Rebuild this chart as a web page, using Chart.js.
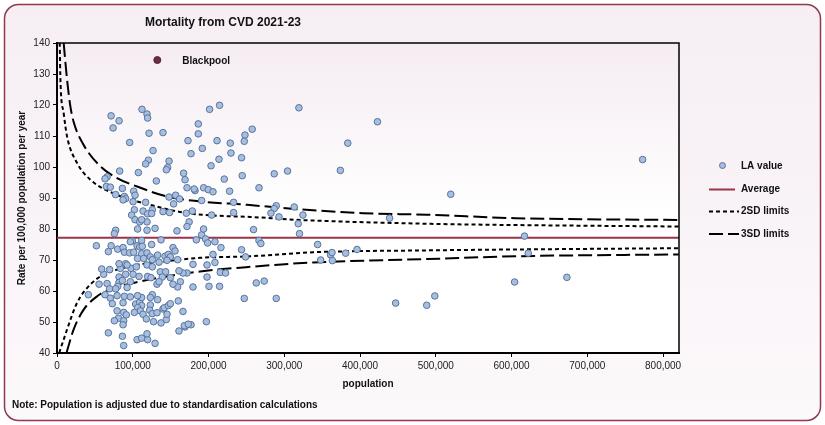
<!DOCTYPE html>
<html>
<head>
<meta charset="utf-8">
<title>Mortality from CVD 2021-23</title>
<script src="https://cdn.jsdelivr.net/npm/chart.js@4.4.1/dist/chart.umd.min.js"></script>
<style>
  html, body { margin: 0; padding: 0; background: #ffffff; }
  #wrap { position: relative; width: 825px; height: 425px; }
</style>
</head>
<body>
<div id="wrap"><canvas id="funnel" width="825" height="425"></canvas></div>
<script>
"use strict";

// Local authority values (adjusted population, rate per 100,000 per year)
const laPopulation = [
  71400, 81900, 74000, 112200, 118800, 119600, 121500, 139900, 95900, 172900,
  126800, 120600, 117000, 147900, 146000, 144300, 82700, 107400, 66100, 63400,
  167100, 169000, 131100, 65200, 70400, 86300, 101200, 103000, 77400, 88900,
  90600, 87200, 171600, 156600, 147900, 161800, 153900, 117000, 100400, 102100,
  113600, 125800, 139900, 148600, 170700, 98500, 103000, 109100, 118800, 119600,
  124900, 111700,
  201400, 214600, 319300, 186500, 186500, 257700, 248100, 247200, 211200, 228700,
  191800, 176900, 229600, 243600, 213800, 203300, 220800, 244500, 286700, 304300,
  266600, 182200, 181000, 193500, 199700, 205900, 227800, 190900, 233100, 233100,
  204100, 178600, 289400, 286700, 282400, 313100, 293000, 324600, 318400, 174400,
  320100, 259400, 266600, 269100, 243600, 248900, 263000, 273500, 247200, 289400,
  208500, 216400, 205900, 208500, 198000, 198000, 200600, 214600, 215500, 222500,
  179500, 179500, 171600, 166300, 183900, 190900, 193500, 196100, 198800, 197100,
  176900, 169000, 166300, 171600,
  423000, 383800, 374000, 519700, 439000, 773000, 617000, 622000, 344000, 361000,
  363000, 348000, 363500, 381000, 396000, 604000, 673000, 498700, 447000, 488000,
  77400, 75700, 106400, 118800, 129400, 158400, 99500, 96800, 111700, 137300,
  52000, 71400, 80100, 87200, 67800, 88900, 95900, 101200, 105700, 109100,
  112600, 124900, 111700, 118800, 106400, 114400, 123200, 125800, 132800, 142600,
  153100, 155800, 147000, 149600, 159200, 145200, 134700, 118800, 125800, 83600,
  97700, 104700, 61600, 90600, 100400, 108300, 81900, 119600, 124100, 136400,
  143400, 149600, 139000, 161000, 162800, 159200, 153100, 132000, 134700, 81900,
  86300, 96800, 80100, 92500, 66100, 55500, 69500, 77400, 41400, 63400,
  70400, 79300, 88900, 96800, 73100, 87200, 103800, 109100, 111700, 106400,
  110000, 102100, 113600, 123200, 122300, 125800, 117900, 79300, 88000, 91500,
  81000, 88000, 75700, 87200, 67800, 86300, 88000, 105700, 111700, 119600,
  118800, 129400, 127500, 137300, 144300, 145200, 139900, 132000, 141600, 147000,
  149600, 160100, 132800, 125800, 123200, 111700, 106400, 161000, 168000, 173300,
  90600, 59000, 69500, 81900, 92500
];

const laRate = [
  116.5, 114.9, 112.6, 118.6, 117.1, 115.8, 110.9, 111.1, 107.9, 108.5,
  105.3, 102.2, 101.0, 101.9, 99.8, 99.1, 98.7, 98.2, 96.8, 96.2,
  98.0, 95.9, 95.5, 93.7, 93.5, 93.1, 92.2, 90.9, 91.1, 90.5,
  89.8, 89.4, 93.3, 90.9, 90.3, 89.7, 88.1, 88.6, 88.8, 86.2,
  85.8, 86.2, 85.6, 85.3, 85.1, 84.5, 83.0, 82.3, 82.3, 84.9,
  85.0, 83.0,
  118.6, 119.9, 119.1, 113.9, 110.7, 112.2, 110.3, 108.3, 108.5, 107.7,
  106.0, 104.3, 104.5, 103.0, 102.5, 100.4, 96.1, 97.2, 97.8, 98.7,
  93.3, 92.4, 92.9, 93.3, 92.7, 92.0, 92.2, 89.2, 88.6, 85.3,
  84.5, 85.8, 87.5, 86.6, 85.1, 87.1, 83.9, 84.5, 81.7, 82.3,
  78.5, 79.8, 76.3, 75.3, 73.3, 71.0, 62.6, 63.2, 57.6, 57.6,
  75.9, 74.0, 71.8, 69.2, 68.4, 64.5, 61.5, 61.5, 66.0, 65.8,
  61.3, 68.6, 65.8, 65.8, 76.5, 78.1, 80.0, 76.8, 75.5, 50.1,
  49.1, 48.4, 53.4, 80.8,
  114.6, 107.7, 98.9, 91.2, 83.5, 102.4, 77.7, 72.2, 75.0, 71.7,
  72.4, 70.0, 69.8, 72.2, 73.4, 62.9, 64.4, 58.4, 56.1, 55.4,
  79.6, 78.5, 80.0, 79.6, 80.2, 79.4, 76.1, 75.9, 76.3, 76.5,
  74.6, 74.6, 73.5, 74.0, 72.7, 72.5, 72.3, 72.5, 74.6, 74.2,
  74.4, 75.0, 72.0, 72.3, 70.5, 70.5, 71.0, 70.1, 71.6, 71.2,
  74.0, 72.9, 71.8, 71.0, 70.1, 69.9, 69.3, 68.4, 67.8, 67.3,
  67.3, 67.8, 65.4, 65.4, 65.4, 64.7, 64.5, 64.7, 64.3, 66.2,
  66.2, 64.3, 64.5, 66.5, 63.0, 61.3, 62.2, 62.2, 63.0, 62.8,
  63.4, 63.0, 61.5, 61.1, 62.4, 62.2, 60.7, 60.7, 58.8, 58.8,
  57.7, 58.5, 58.3, 58.1, 55.9, 56.2, 55.8, 56.4, 55.3, 54.6,
  53.6, 53.1, 52.5, 55.5, 53.8, 52.7, 51.0, 53.6, 53.1, 52.3,
  51.2, 50.4, 50.4, 49.1, 46.5, 45.4, 42.4, 44.3, 44.8, 44.3,
  46.2, 43.1, 50.1, 49.7, 50.8, 52.5, 54.2, 53.0, 54.6, 55.3,
  55.9, 56.8, 57.2, 58.8, 57.9, 57.9, 58.5, 47.1, 48.8, 49.3,
  68.8, 67.1, 66.9, 68.8, 68.4
];

// Highlighted authority
const highlightName = "Blackpool";
const highlightPopulation = 132400;
const highlightRate = 134.5;

// England average
const averageRate = 77.2;

// Control limits
const sd2UpperPop = [3600, 4500, 8800, 13300, 26500, 44000, 79300, 123200, 167000, 211000, 255000, 313000, 488000, 561000, 821000];
const sd2Upper = [140, 128.1, 117.4, 109.8, 101.3, 95.9, 91.0, 87.8, 85.3, 84.3, 83.9, 83.0, 81.7, 81.4, 80.8];
const sd2LowerPop = [3000, 5500, 8800, 13300, 26500, 44000, 61600, 79300, 101000, 145000, 189000, 255000, 338000, 488000, 605000, 821000];
const sd2Lower = [40, 42.0, 44.3, 47.6, 56.2, 62.1, 65.3, 66.9, 68.2, 69.6, 70.7, 71.2, 72.5, 73.1, 73.4, 73.8];
const sd3UpperPop = [8800, 13300, 17700, 22000, 35200, 57300, 79300, 105700, 145000, 189000, 251000, 317000, 404000, 488000, 605000, 821000];
const sd3Upper = [140, 128.1, 119.5, 114.5, 107.1, 100.2, 96.4, 93.7, 90.5, 88.9, 87.8, 86.4, 85.1, 84.6, 83.5, 82.9];
const sd3LowerPop = [12500, 22000, 35200, 53000, 70400, 101000, 145000, 189000, 255000, 338000, 488000, 605000, 821000];
const sd3Lower = [40, 47.6, 54.0, 58.3, 60.5, 62.6, 64.7, 66.3, 67.8, 69.2, 70.3, 71.2, 71.8];

// Axis settings
const xMax = 821000;
const xTicks = [0, 100000, 200000, 300000, 400000, 500000, 600000, 700000, 800000];
const yMin = 40;
const yMax = 140;
const yStep = 10;

const FONT = "'Liberation Sans', Arial, sans-serif";
const POINT_FILL = "#a7bede";
const POINT_EDGE = "#58749f";
const AVG_COLOUR = "#9a3446";

const toXY = (xs, ys) => xs.map((x, i) => ({ x: x, y: ys[i] }));

// Draws the panel, title, legend and notes round the plot
const decorations = {
  id: "decorations",
  beforeDraw(chart) {
    const { ctx, chartArea: a } = chart;
    ctx.save();
    const bg = ctx.createLinearGradient(0, 0, 0, 425);
    bg.addColorStop(0, "#f6eef3");
    bg.addColorStop(1, "#fcf9fb");
    ctx.beginPath();
    ctx.roundRect(4.5, 4.5, 816, 416, 14);
    ctx.fillStyle = bg;
    ctx.fill();
    ctx.lineWidth = 1.5;
    ctx.strokeStyle = "#8e3a4c";
    ctx.stroke();

    const pg = ctx.createLinearGradient(0, a.top, 0, a.bottom);
    pg.addColorStop(0, "#f5ecf2");
    pg.addColorStop(0.55, "#ffffff");
    pg.addColorStop(1, "#ffffff");
    ctx.fillStyle = pg;
    ctx.fillRect(a.left, a.top, a.right - a.left, a.bottom - a.top);
    ctx.restore();
  },
  afterDatasetsDraw(chart) {
    const { ctx, chartArea: a, scales } = chart;
    ctx.save();
    // top and right frame
    ctx.strokeStyle = "#000";
    ctx.lineWidth = 1.5;
    ctx.beginPath();
    ctx.moveTo(a.left, a.top);
    ctx.lineTo(a.right, a.top);
    ctx.lineTo(a.right, a.bottom);
    ctx.stroke();

    ctx.fillStyle = "#111";
    ctx.textBaseline = "middle";

    // label next to the highlighted point
    ctx.font = "bold 10px " + FONT;
    ctx.textAlign = "left";
    ctx.fillText(
      highlightName,
      scales.x.getPixelForValue(highlightPopulation) + 25,
      scales.y.getPixelForValue(highlightRate) + 1
    );

    // title
    ctx.font = "bold 12px " + FONT;
    ctx.textAlign = "center";
    ctx.fillText("Mortality from CVD 2021-23", 223, 23);

    // note
    ctx.font = "bold 10px " + FONT;
    ctx.textAlign = "left";
    ctx.fillText("Note: Population is adjusted due to standardisation calculations", 12, 405);

    // legend
    const lx = 709, tx = 741;
    ctx.fillText("LA value", tx, 166);
    ctx.fillText("Average", tx, 189);
    ctx.fillText("2SD limits", tx, 211);
    ctx.fillText("3SD limits", tx, 234);

    ctx.beginPath();
    ctx.arc(722.5, 165.5, 3, 0, Math.PI * 2);
    ctx.fillStyle = POINT_FILL;
    ctx.fill();
    ctx.lineWidth = 1;
    ctx.strokeStyle = POINT_EDGE;
    ctx.stroke();

    ctx.lineWidth = 2;
    ctx.strokeStyle = AVG_COLOUR;
    ctx.beginPath();
    ctx.moveTo(lx, 189.5);
    ctx.lineTo(735, 189.5);
    ctx.stroke();

    ctx.strokeStyle = "#000";
    ctx.setLineDash([4, 3]);
    ctx.beginPath();
    ctx.moveTo(lx, 211.5);
    ctx.lineTo(739, 211.5);
    ctx.stroke();

    ctx.setLineDash([14, 5]);
    ctx.beginPath();
    ctx.moveTo(lx, 234);
    ctx.lineTo(739, 234);
    ctx.stroke();
    ctx.restore();
  }
};

const limitLine = (label, xs, ys, dash) => ({
  type: "line",
  label: label,
  data: toXY(xs, ys),
  borderColor: "#000",
  borderWidth: 2,
  borderDash: dash,
  pointRadius: 0,
  fill: false,
  cubicInterpolationMode: "monotone",
  order: 2
});

const renderFunnel = () => {
  Chart.defaults.font.family = FONT;
  const ctx = document.getElementById("funnel").getContext("2d");

  new Chart(ctx, {
    type: "scatter",
    data: {
      datasets: [
        {
          label: highlightName,
          data: [{ x: highlightPopulation, y: highlightRate }],
          pointRadius: 3.5,
          pointBackgroundColor: "#6b2c44",
          pointBorderColor: "#5a2238",
          pointBorderWidth: 1,
          order: 0
        },
        {
          label: "LA value",
          data: toXY(laPopulation, laRate),
          pointRadius: 3.3,
          pointBackgroundColor: POINT_FILL,
          pointBorderColor: POINT_EDGE,
          pointBorderWidth: 1,
          order: 1
        },
        {
          type: "line",
          label: "Average",
          data: [{ x: 0, y: averageRate }, { x: xMax, y: averageRate }],
          borderColor: AVG_COLOUR,
          borderWidth: 2,
          pointRadius: 0,
          order: 3
        },
        limitLine("2SD upper", sd2UpperPop, sd2Upper, [4, 3]),
        limitLine("2SD lower", sd2LowerPop, sd2Lower, [4, 3]),
        limitLine("3SD upper", sd3UpperPop, sd3Upper, [14, 5]),
        limitLine("3SD lower", sd3LowerPop, sd3Lower, [14, 5])
      ]
    },
    options: {
      responsive: false,
      animation: false,
      devicePixelRatio: 1,
      layout: { padding: { top: 43, right: 146, bottom: 0, left: 0 } },
      plugins: {
        legend: { display: false },
        tooltip: { enabled: false },
        title: { display: false }
      },
      scales: {
        x: {
          type: "linear",
          min: 0,
          max: xMax,
          afterBuildTicks: (scale) => {
            scale.ticks = xTicks.map((v) => ({ value: v }));
          },
          ticks: {
            autoSkip: false,
            maxRotation: 0,
            color: "#222",
            font: { size: 10 },
            padding: 3,
            callback: (v) => v.toLocaleString("en-US")
          },
          grid: { drawOnChartArea: false, tickLength: 4, color: "#000" },
          border: { color: "#000", width: 2 },
          title: {
            display: true,
            text: "population",
            color: "#111",
            font: { size: 10, weight: "bold" },
            padding: { top: 0, bottom: 35 }
          },
          afterFit: (scale) => { scale.height = 72; }
        },
        y: {
          min: yMin,
          max: yMax,
          ticks: {
            stepSize: yStep,
            color: "#222",
            font: { size: 10 },
            padding: 3
          },
          grid: { drawOnChartArea: false, tickLength: 4, color: "#000" },
          border: { color: "#000", width: 2 },
          title: {
            display: true,
            text: "Rate per 100,000 population per year",
            color: "#111",
            font: { size: 10, weight: "bold" },
            padding: { top: 16, bottom: 0 }
          },
          afterFit: (scale) => { scale.width = 57; }
        }
      }
    },
    plugins: [decorations]
  });
};

document.addEventListener("DOMContentLoaded", renderFunnel);
</script>
</body>
</html>
